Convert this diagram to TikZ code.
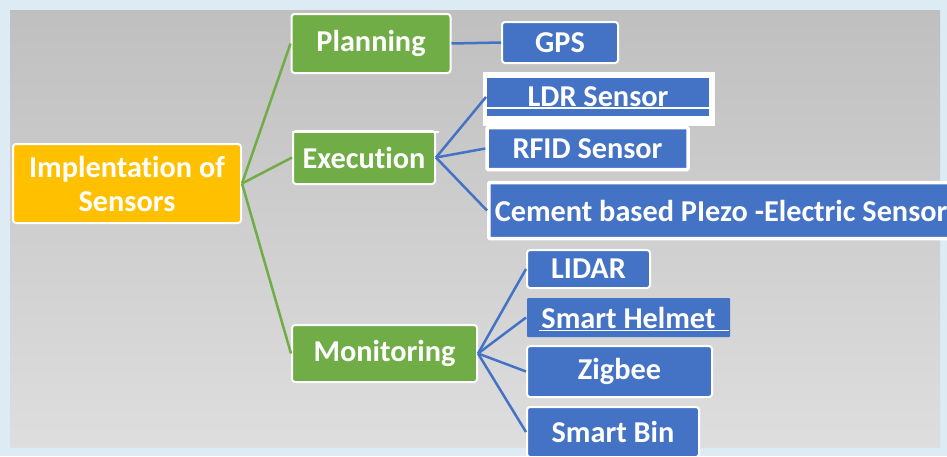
\documentclass[tikz,border=0pt]{standalone}
\usepackage{fontspec}
\setmainfont[Ligatures={NoCommon,NoRare}]{Carlito}
\definecolor{cgreen}{HTML}{70AD47}
\definecolor{cblue}{HTML}{4472C4}
\definecolor{corange}{HTML}{FFC000}
\definecolor{frame}{HTML}{DDEBF4}
\begin{document}
\begin{tikzpicture}[x=1pt,y=-1pt,
  box/.style={rectangle, draw=white, line width=2pt, rounded corners=3pt, text=white,
     font=\fontsize{30.3}{34}\selectfont\bfseries, inner sep=0pt, align=center},
  rootbox/.style={box, fill=corange},
  gbox/.style={box, fill=cgreen},
  bbox/.style={box, fill=cblue},
  gline/.style={draw=cgreen, line width=2.5pt},
  bline/.style={draw=cblue, line width=2.5pt}]
\useasboundingbox (0,0) rectangle (947,456);
\fill[frame] (0,0) rectangle (947,456);
\shade[top color=black!25, bottom color=black!13] (10,10) rectangle (940,447);
\begin{scope}
\clip (0,0) rectangle (947,456);
% root and level 1
\node[rootbox, minimum width=228pt, minimum height=79pt] (root) at (127,183.5) {Implentation of\\Sensors};
\node[gbox, minimum width=159pt, minimum height=59pt] (plan) at (371,43.5) {Planning};
\node[gbox, minimum width=142pt, minimum height=53pt] (exec) at (364,157.5) {Execution};
\node[gbox, minimum width=185pt, minimum height=57pt] (mon) at (384.5,353.5) {Monitoring};
% level 2
\node[bbox, minimum width=116pt, minimum height=41pt] (gps) at (560,42.5) {GPS};
\node[rectangle, fill=white, minimum width=232pt, minimum height=54pt, inner sep=0pt] (ldrbg) at (599,99) {};
\node[bbox, draw=none, rounded corners=0pt, minimum width=222pt, minimum height=38pt] (ldr) at (598,97) {LDR Sensor};
\draw[white, line width=1.5pt] ([yshift=-11pt]ldr.west) -- ([yshift=-11pt]ldr.east);
\node[bbox, line width=3.5pt, rounded corners=1pt, minimum width=201pt, minimum height=42pt] (rfid) at (587.5,148.5) {RFID Sensor};
\node[bbox, line width=3.5pt, rounded corners=1pt, minimum height=56pt, anchor=west, inner xsep=6pt] (cem) at (487,210.5) {Cement based PIezo -Electric Sensor};
\node[bbox, minimum width=123pt, minimum height=38pt] (lidar) at (588.5,269) {LIDAR};
\node[bbox, draw=none, rounded corners=1pt, minimum width=203pt, minimum height=39pt] (helm) at (628.5,317.5) {Smart Helmet};
\draw[white, line width=1.5pt] ([xshift=13pt,yshift=-13pt]helm.west) -- ([xshift=-2pt,yshift=-13pt]helm.east);
\node[bbox, minimum width=185pt, minimum height=51pt] (zig) at (619.5,371.5) {Zigbee};
\node[bbox, minimum width=172pt, minimum height=50pt] (bin) at (613,432) {Smart Bin};
\end{scope}
\draw[white, line width=1.5pt] ([yshift=-2pt]exec.north west) -- ([xshift=3pt,yshift=-2pt]exec.north east);
% connectors
\path[gline] (root.east) -- (plan.west);
\path[gline] (root.east) -- (exec.west);
\path[gline] (root.east) -- (mon.west);
\path[bline] (plan.east) -- (gps.west);
\path[bline] (exec.east) -- (ldr.west);
\path[bline] (exec.east) -- (rfid.west);
\path[bline] (exec.east) -- (cem.west);
\path[bline] (mon.east) -- (lidar.west);
\path[bline] (mon.east) -- (helm.west);
\path[bline] (mon.east) -- (zig.west);
\path[bline] (mon.east) -- (bin.west);
\end{tikzpicture}
\end{document}
